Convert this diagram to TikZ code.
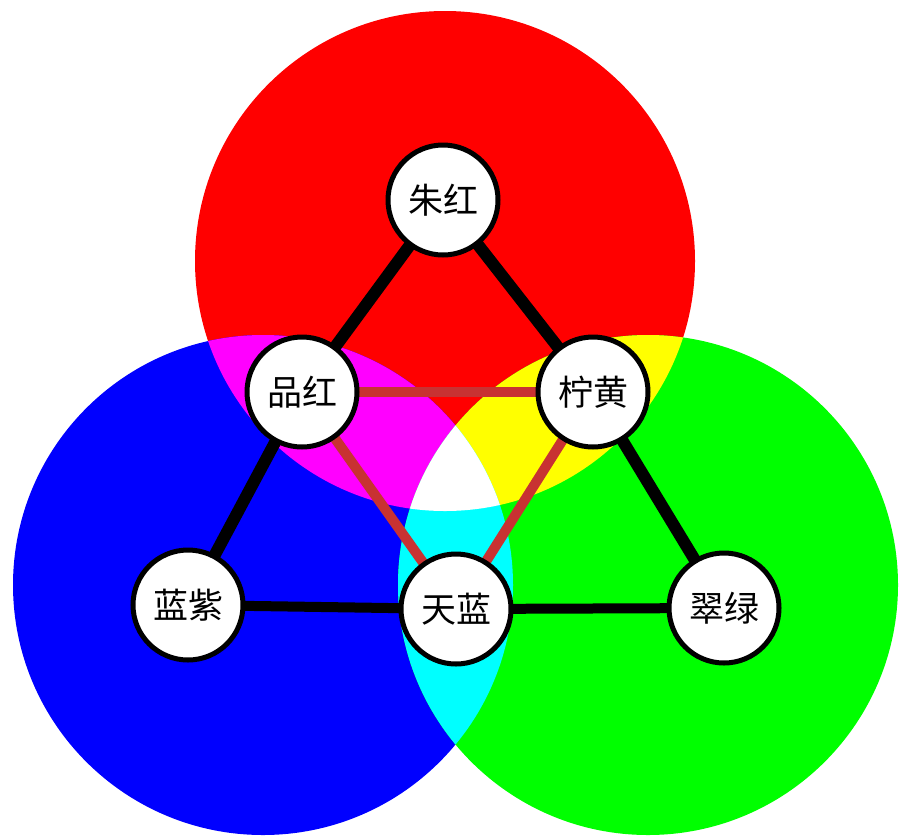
\documentclass[tikz,border=0pt]{standalone}
\usepackage{fontspec}
\newfontfamily\cjk{Noto Sans CJK SC}
\definecolor{linkred}{RGB}{200,50,50}
\definecolor{pR}{RGB}{255,0,0}
\definecolor{pG}{RGB}{0,255,0}
\definecolor{pB}{RGB}{0,0,255}
\definecolor{pM}{RGB}{255,0,255}
\definecolor{pY}{RGB}{255,255,0}
\definecolor{pC}{RGB}{0,255,255}
\pgfdeclarelayer{bg}
\pgfdeclarelayer{mid}
\pgfsetlayers{bg,mid,main}
\begin{document}
\begin{tikzpicture}[x=1pt,y=-1pt,
  lbl/.style={circle, draw=black, fill=white, line width=5pt, minimum size=110pt, inner sep=0pt, font=\cjk\fontsize{35}{35}\selectfont},
  blk/.style={line width=12pt, draw=black},
  blkthin/.style={line width=10pt, draw=black},
  rbr/.style={line width=10pt, draw=linkred}]
\useasboundingbox (0,0) rectangle (902,836);
\begin{pgfonlayer}{bg}
  \fill[white] (0,0) rectangle (902,836);
  \fill[pR] (445,261) circle[radius=250pt];
  \fill[pB] (263,585) circle[radius=250pt];
  \fill[pG] (648,585) circle[radius=250pt];
  \begin{scope}
    \clip (445,261) circle[radius=250pt];
    \fill[pM] (263,585) circle[radius=250pt];
    \fill[pY] (648,585) circle[radius=250pt];
  \end{scope}
  \begin{scope}
    \clip (263,585) circle[radius=250pt];
    \fill[pC] (648,585) circle[radius=250pt];
  \end{scope}
  \begin{scope}
    \clip (445,261) circle[radius=250pt];
    \clip (263,585) circle[radius=250pt];
    \fill[white] (648,585) circle[radius=250pt];
  \end{scope}
\end{pgfonlayer}
\node[lbl] (zh) at (443,200) {朱红};
\node[lbl] (ph) at (302,392) {品红};
\node[lbl] (nh) at (593,392) {柠黄};
\node[lbl] (lz) at (188,605) {蓝紫};
\node[lbl] (tl) at (456,609) {天蓝};
\node[lbl] (cl) at (724,608) {翠绿};
\begin{pgfonlayer}{mid}
  \draw[blk] (zh.center) -- (ph.center);
  \draw[blk] (zh.center) -- (nh.center);
  \draw[blk] (ph.center) -- (lz.center);
  \draw[blk] (nh.center) -- (cl.center);
  \draw[blkthin] (lz.center) -- (tl.center);
  \draw[blkthin] (tl.center) -- (cl.center);
  \draw[rbr] (ph.center) -- (nh.center);
  \draw[rbr] (ph.center) -- (tl.center);
  \draw[rbr] (nh.center) -- (tl.center);
\end{pgfonlayer}
\end{tikzpicture}
\end{document}
